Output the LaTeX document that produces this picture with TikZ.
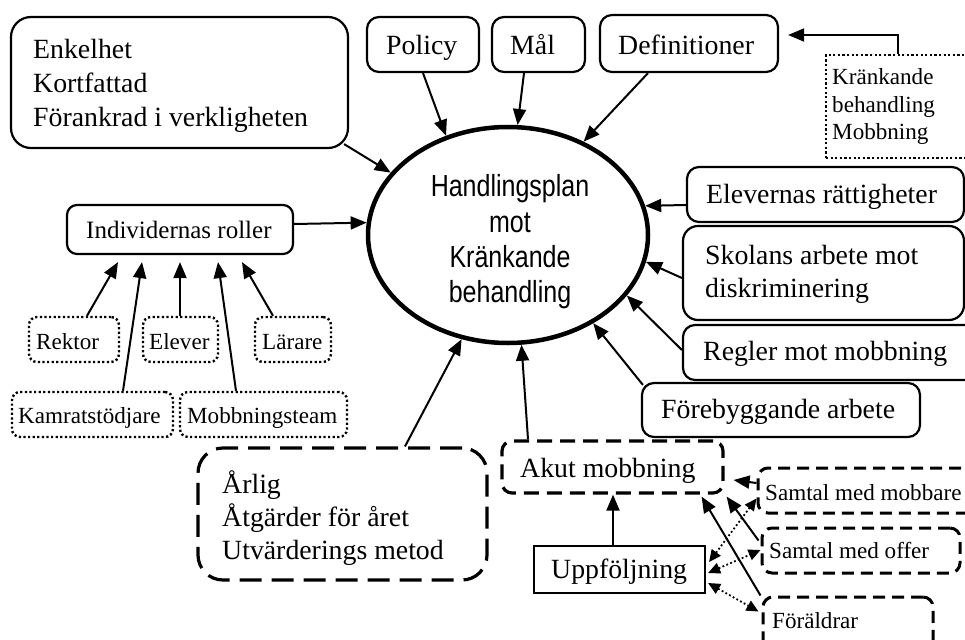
\documentclass[tikz,border=0pt]{standalone}
\usepackage{fontspec}
\setmainfont{Liberation Serif}
\newfontfamily\narrowsans[FakeStretch=0.82]{Liberation Sans}
\usetikzlibrary{shapes.geometric,arrows.meta,calc}
\tikzset{
  fbig/.style={font=\fontsize{27.8}{30}\selectfont},
  fmid/.style={font=\fontsize{25}{27}\selectfont},
  fsml/.style={font=\fontsize{23.1}{25}\selectfont},
  fell/.style={font=\narrowsans\fontsize{30.5}{35}\selectfont},
  lbl/.style={anchor=base west, inner sep=0pt},
  solidbox/.style={draw, line width=2.2pt, rounded corners=12pt, inner sep=0pt},
  dotbox/.style={draw, line width=2.4pt, dash pattern=on 2.2pt off 2.4pt, inner sep=0pt},
  dashbig/.style={draw, line width=3.2pt, dash pattern=on 22pt off 10pt, rounded corners=25pt, inner sep=0pt},
  dashmid/.style={draw, line width=3.2pt, dash pattern=on 15pt off 8pt, rounded corners=10pt, inner sep=0pt},
  dashsml/.style={draw, line width=3pt, dash pattern=on 12pt off 7pt, rounded corners=10pt, inner sep=0pt},
  arr/.style={line width=2pt, -{Triangle[length=16pt,width=13pt]}},
  darr/.style={line width=1.8pt, dash pattern=on 1.8pt off 2.4pt, {Triangle[length=12pt,width=11pt]}-{Triangle[length=12pt,width=11pt]}},
}
\begin{document}
\begin{tikzpicture}[x=1pt,y=-1pt]
\useasboundingbox (0,0) rectangle (965,639);
\fill[white] (0,0) rectangle (965,639);
\clip (0,0) rectangle (965,639);

% ---------- boxes ----------
\node[solidbox, rounded corners=20pt, minimum width=337pt, minimum height=131pt] (tl) at (179.5,82.5) {};
\node[solidbox, minimum width=112pt, minimum height=55pt] (pol) at (423,44.5) {};
\node[solidbox, minimum width=93pt, minimum height=55pt] (mal) at (538.5,44.5) {};
\node[solidbox, minimum width=178pt, minimum height=57pt] (def) at (689,43.5) {};
\node[dotbox, minimum width=174pt, minimum height=103pt] (kr) at (913,106.5) {};
\node[draw, ellipse, line width=4.5pt, minimum width=280pt, minimum height=216pt, inner sep=0pt] (ell) at (508,235) {};
\node[solidbox, rounded corners=10pt, minimum width=226pt, minimum height=49pt] (ind) at (180,229.5) {};
\node[solidbox, minimum width=277pt, minimum height=55pt] (elev) at (825.5,194.5) {};
\node[solidbox, rounded corners=15pt, minimum width=281pt, minimum height=94pt] (skol) at (823.5,273) {};
\node[solidbox, minimum width=307pt, minimum height=55pt] (regl) at (836.5,352.5) {};
\node[solidbox, minimum width=278pt, minimum height=54pt] (fore) at (781,410) {};
\node[dotbox, rounded corners=8pt, minimum width=90pt, minimum height=45pt] (rek) at (74,339.5) {};
\node[dotbox, rounded corners=8pt, minimum width=75pt, minimum height=45pt] (elv) at (180.5,339.5) {};
\node[dotbox, rounded corners=8pt, minimum width=76pt, minimum height=45pt] (lar) at (293,339.5) {};
\node[dotbox, rounded corners=8pt, minimum width=161pt, minimum height=45pt] (kam) at (92.5,414.5) {};
\node[dotbox, rounded corners=8pt, minimum width=167pt, minimum height=45pt] (mob) at (263.5,414.5) {};
\node[dashbig, minimum width=289pt, minimum height=132pt] (arl) at (342.5,514) {};
\node[dashmid, minimum width=221pt, minimum height=52pt] (akut) at (612.5,467) {};
\node[draw, line width=2.2pt, inner sep=0pt, minimum width=171pt, minimum height=47pt] (upp) at (619.5,569.5) {};
\node[dashsml, minimum width=232pt, minimum height=45pt] (smob) at (874,490.5) {};
\node[dashsml, minimum width=198pt, minimum height=45pt] (soff) at (861,550.5) {};
\node[dashsml, minimum width=170pt, minimum height=73pt] (foer) at (848,633.5) {};

% ---------- texts ----------
\node[lbl, fbig] (tl1) at (33,59) {Enkelhet};
\node[lbl, fbig] (tl2) at (33,93) {Kortfattad};
\node[lbl, fbig] (tl3) at (33,127) {Förankrad i verkligheten};
\node[lbl, fbig] (polt) at (386,55) {Policy};
\node[lbl, fbig] (malt) at (510,55) {Mål};
\node[lbl, fbig] (deft) at (618,55) {Definitioner};
\node[lbl, fsml] (kr1) at (832,85) {Kränkande};
\node[lbl, fsml] (kr2) at (832,113) {behandling};
\node[lbl, fsml] (kr3) at (832,140) {Mobbning};
\node[lbl, fmid] (indt) at (86,238) {Individernas roller};
\node[lbl, fbig] (elevt) at (706,203) {Elevernas rättigheter};
\node[lbl, fbig] (skol1) at (705,264) {Skolans arbete mot};
\node[lbl, fbig] (skol2) at (705,297) {diskriminering};
\node[lbl, fbig] (reglt) at (703,360) {Regler mot mobbning};
\node[lbl, fbig] (foret) at (661,418) {Förebyggande arbete};
\node[lbl, fsml] (rekt) at (36,349) {Rektor};
\node[lbl, fsml] (elvt) at (149,349) {Elever};
\node[lbl, fsml] (lart) at (262,349) {Lärare};
\node[lbl, fsml] (kamt) at (18,423) {Kamratstödjare};
\node[lbl, fsml] (mobt) at (187,423) {Mobbningsteam};
\node[lbl, fbig] (arl1) at (222,493) {Årlig};
\node[lbl, fbig] (arl2) at (222,526) {Åtgärder för året};
\node[lbl, fbig] (arl3) at (222,559) {Utvärderings metod};
\node[lbl, fbig] (akutt) at (520,477) {Akut mobbning};
\node[lbl, fbig] (uppt) at (551,578) {Uppföljning};
\node[lbl, fsml] (smobt) at (765,500) {Samtal med mobbare};
\node[lbl, fsml] (sofft) at (769,558) {Samtal med offer};
\node[lbl, fsml] (foert) at (772,628) {Föräldrar};
\node[anchor=base, inner sep=0pt, fell] (e1) at (510,196) {Handlingsplan};
\node[anchor=base, inner sep=0pt, fell] (e2) at (510,232) {mot};
\node[anchor=base, inner sep=0pt, fell] (e3) at (510,267) {Kränkande};
\node[anchor=base, inner sep=0pt, fell] (e4) at (510,302) {behandling};

% ---------- connectors ----------
\draw[arr] ($(tl.south east)+(-5,-5)$) -- (ell.152);
\draw[arr] (pol.south) -- (ell.122.6);
\draw[arr] ($(mal.south)+(-14.5,0)$) -- (ell.85);
\draw[arr] ($(def.south)+(-41,0)$) -- (ell.51.6);
\draw[arr] ($(kr.north west)+(73,0)$) |- ($(def.east)+(9,-8.5)$);
\draw[arr] ($(ind.east)+(0,-5.5)$) -- (ell.175.5);
\draw[arr] ($(rek.north)+(13,0)$) -- ($(ind.south)+(-62,7)$);
\draw[arr] ($(kam.north)+(30.5,0)$) -- ($(ind.south)+(-38,7)$);
\draw[arr] ($(elv.north)+(-0.5,0)$) -- ($(ind.south)+(0,7)$);
\draw[arr] ($(mob.north)+(-27.5,0)$) -- ($(ind.south)+(38,7)$);
\draw[arr] ($(lar.north)+(-20,0)$) -- ($(ind.south)+(62,7)$);
\draw[arr] ($(elev.west)+(0,10.5)$) -- (ell.12);
\draw[arr] ($(skol.west)+(0,5)$) -- (ell.-11.3);
\draw[arr] ($(regl.west)+(0,-2.5)$) -- (ell.-27.7);
\draw[arr] ($(fore.north west)+(2,3)$) -- (ell.-46.5);
\draw[arr] ($(arl.north)+(62.5,0)$) -- (ell.-114.6);
\draw[arr] ($(akut.north)+(-84.5,0)$) -- (ell.-83);
\draw[arr] ($(upp.north)+(-6.5,0)$) -- ($(akut.south)+(0.5,0)$);
\draw[arr] ($(smob.west)+(0,-7.5)$) -- ($(akut.east)+(9,13)$);
\draw[arr] ($(soff.north west)+(-2,14)$) -- ($(akut.south east)+(2,2)$);
\draw[arr] ($(foer.north west)+(-1,0)$) -- ($(akut.south east)+(-23,2)$);
\draw[darr] ($(upp.east)+(3,-7.5)$) -- ($(smob.south west)+(0,-16)$);
\draw[darr] ($(upp.east)+(2,3.5)$) -- ($(soff.west)+(0,-0.5)$);
\draw[darr] ($(upp.east)+(2,13.5)$) -- ($(foer.north west)+(-3,16)$);
\end{tikzpicture}
\end{document}
